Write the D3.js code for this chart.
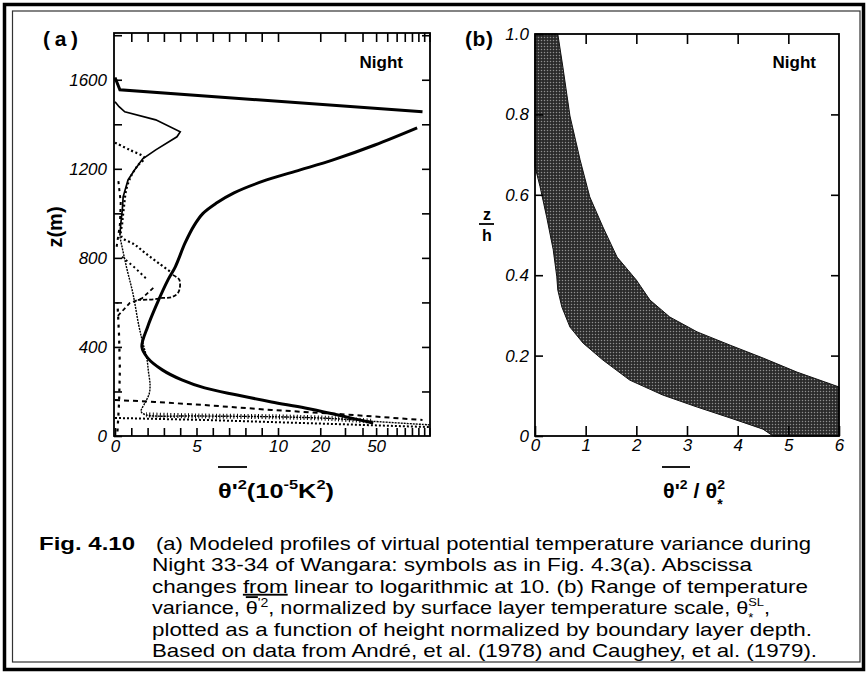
<!DOCTYPE html>
<html>
<head>
<meta charset="utf-8">
<script src="https://cdn.jsdelivr.net/npm/d3@7"></script>
<style>
  body { margin: 0; background: #fff; }
  svg { display: block; font-family: "Liberation Sans", Arial, sans-serif; }
</style>
</head>
<body>
<div id="chart"></div>
<script>
// ---- panel (a): profiles, [variance (1e-5 K^2), z (m)] ----
const thickProfile = [[47.7,58],[26.8,94],[15.6,126],[9.6,153],[7.5,184],[5.5,216],[4.1,252],[2.9,297],
  [2.0,351],[1.65,400],[2.0,490],[2.6,598],[3.25,701],[3.7,760],[4.3,867],[4.85,945],[5.4,1000],
  [6.2,1045],[7.3,1092],[9.3,1150],[14.4,1195],[24.7,1240],[49,1307],[98,1384]];
const inversionTop = [[0,1610],[0.3,1555],[107,1456]];
const thinPeak = [[0,1501],[0.25,1479],[0.6,1456],[2.5,1420],[4.0,1366],[3.8,1344],[2.5,1285],
  [1.7,1245],[1.2,1195],[0.8,1150],[0.5,1074],[0.45,1016],[0.35,950],[0.3,900]];
const coarseDots = [[0,1317],[0.9,1285],[1.8,1249],[1.4,1215],[1.0,1170],[0.7,1110],[0.55,1030],
  [0.45,960],[0.4,895],[1.2,860],[1.85,822],[2.7,775],[3.5,732]];
const dashLoop = [[3.55,723],[3.95,701],[3.9,647],[3.5,624],[2.9,620],[2.4,614],[1.4,611]];
const innerDots = [[0.43,805],[1.23,755],[2.0,701]];
const shortDash = [[2.35,665],[1.65,618],[0.9,597],[0.12,535]];
const thinLower = [[0.3,895],[0.7,760],[1.1,640],[1.45,500],[1.7,420],[1.95,350],[2.05,290],
  [2.15,230],[2.1,190],[1.85,150],[1.6,110],[1.9,95],[5,90],[10,86],[25,78],[47,66],[121,50]];
const hatchBottom = [[1.9,95],[5,90],[10,86],[25,78],[47,66]];
const dashedBottom = [[0,162],[2.45,153],[5.5,139],[9.6,117],[26.8,99],[107,72]];
const dottedBottom = [[0,81],[5.5,72],[15.6,58],[121,40]];
const leftHatch = [[0.15,20],[0.25,150],[0.3,300],[0.25,450],[0.15,600]];
const leftHatchUpper = [[0.1,850],[0.3,950],[0.35,1050],[0.2,1150]];

const xTicksLinA = [1,2,3,4,5,6,7,8,9,10];
const xTicksLogA = [20,30,40,50,60,70,80,90,100,110,120];
const xLabelsA = [0,5,10,20,50];
const yTicksA = [200,400,600,800,1000,1200,1400,1600,1800];
const yLabelsA = [0,400,800,1200,1600];

// ---- panel (b): band of normalized variance, [theta'^2/theta*^2, z/h] ----
const bandOuter = [[0.45,1.0],[0.55,0.918],[0.69,0.796],[0.89,0.687],[1.08,0.595],[1.34,0.52],
  [1.62,0.445],[2.0,0.388],[2.27,0.338],[2.66,0.296],[3.2,0.259],[3.85,0.226],[4.5,0.194],
  [5.17,0.159],[6,0.122],[6,0]];
const bandInner = [[0,1.0],[0,0.67],[0.1,0.62],[0.23,0.545],[0.36,0.463],[0.43,0.396],[0.45,0.363],
  [0.53,0.321],[0.69,0.271],[0.95,0.231],[1.34,0.189],[1.87,0.139],[2.52,0.102],[3.2,0.072],
  [3.85,0.045],[4.5,0.017],[4.7,0]];
const xTicksB = [0,1,2,3,4,5,6];
const yTicksB = [0,0.2,0.4,0.6,0.8,1.0];

const captionLines = [
  "(a) Modeled profiles of virtual potential temperature variance during",
  "Night 33-34 of Wangara:  symbols as in Fig. 4.3(a). Abscissa",
  "changes |from| linear to logarithmic at 10.  (b) Range of temperature",
  null,
  "plotted as a function of height normalized by boundary layer depth.",
  "Based on data from André, et al. (1978) and Caughey, et al. (1979)."
];
const captionEnds = [811, 752, 808, 770, 812, 817];

const W = 866, H = 676;
const svg = d3.select("#chart").append("svg").attr("width", W).attr("height", H);

// frame
svg.append("rect").attr("x", 4.5).attr("y", 4.5).attr("width", 859).attr("height", 665)
  .attr("fill", "none").attr("stroke", "#000").attr("stroke-width", 3.5);
svg.append("rect").attr("x", 12.5).attr("y", 11).attr("width", 847.5).attr("height", 651)
  .attr("fill", "none").attr("stroke", "#333").attr("stroke-width", 1.2);

// ---------- panel (a) ----------
const xLin = d3.scaleLinear().domain([0, 10]).range([115, 278]);
const xLog = d3.scaleLog().domain([10, 121]).range([278, 430]);
const xA = v => v <= 10 ? xLin(v) : xLog(v);
const yA = d3.scaleLinear().domain([0, 1810]).range([436, 33]);

function styleAxis(g) {
  g.select(".domain").remove();
  g.attr("font-family", null).attr("font-size", 17);
  g.selectAll("line").attr("stroke", "#000").attr("stroke-width", 1.6);
  g.selectAll("text").attr("font-style", "italic").attr("fill", "#000");
}

const pa = svg.append("g");
pa.append("g").attr("transform", "translate(0,436)")
  .call(d3.axisBottom(xLin).tickValues([0, ...xTicksLinA]).tickSize(-8).tickPadding(4)
    .tickFormat(d => xLabelsA.includes(d) ? d : ""))
  .call(styleAxis);
pa.append("g").attr("transform", "translate(0,436)")
  .call(d3.axisBottom(xLog).tickValues(xTicksLogA).tickSize(-8).tickPadding(4)
    .tickFormat(d => xLabelsA.includes(d) ? d : ""))
  .call(styleAxis);
pa.append("g").attr("transform", "translate(0,33)")
  .call(d3.axisTop(xLin).tickValues(xTicksLinA).tickSize(-9).tickFormat(""))
  .call(styleAxis);
pa.append("g").attr("transform", "translate(0,33)")
  .call(d3.axisTop(xLog).tickValues(xTicksLogA).tickSize(-9).tickFormat(""))
  .call(styleAxis);
pa.append("g").attr("transform", "translate(114,0)")
  .call(d3.axisLeft(yA).tickValues([0, ...yTicksA]).tickSize(-8).tickPadding(7)
    .tickFormat(d => yLabelsA.includes(d) ? d : ""))
  .call(styleAxis);
pa.append("g").attr("transform", "translate(430,0)")
  .call(d3.axisRight(yA).tickValues(yTicksA).tickSize(-8).tickFormat(""))
  .call(styleAxis);
pa.append("rect").attr("x", 114).attr("y", 33).attr("width", 316).attr("height", 403)
  .attr("fill", "none").attr("stroke", "#000").attr("stroke-width", 1.8);

const lineA = d3.line().x(d => xA(d[0])).y(d => yA(d[1]));
const smoothA = d3.line().x(d => xA(d[0])).y(d => yA(d[1])).curve(d3.curveCatmullRom.alpha(0.5));

const series = [
  { data: leftHatch, gen: lineA, w: 2.2, dash: "3,5" },
  { data: leftHatchUpper, gen: lineA, w: 2, dash: "3,4" },
  { data: dottedBottom, gen: lineA, w: 2, dash: "2,2" },
  { data: dashedBottom, gen: lineA, w: 2, dash: "5,4" },
  { data: hatchBottom, gen: smoothA, w: 5, dash: "1,2.5" },
  { data: thinLower, gen: smoothA, w: 1.4, dash: "2,1" },
  { data: shortDash, gen: lineA, w: 1.8, dash: "4,3" },
  { data: innerDots, gen: lineA, w: 2, dash: "2,3" },
  { data: dashLoop, gen: smoothA, w: 1.8, dash: "4,2" },
  { data: coarseDots, gen: smoothA, w: 2.2, dash: "2,2.5" },
  { data: thinPeak, gen: lineA, w: 1.7, dash: null },
  { data: inversionTop, gen: lineA, w: 3, dash: null },
  { data: thickProfile, gen: smoothA, w: 3, dash: null }
];
pa.selectAll("path.series").data(series).join("path")
  .attr("class", "series")
  .attr("d", d => d.gen(d.data))
  .attr("fill", "none").attr("stroke", "#000")
  .attr("stroke-width", d => d.w)
  .attr("stroke-dasharray", d => d.dash);

pa.append("text").attr("x", 43).attr("y", 46).attr("font-size", 21).attr("font-weight", "bold")
  .attr("textLength", 35).attr("lengthAdjust", "spacing").text("(a)");
pa.append("text").attr("x", 403).attr("y", 68).attr("font-size", 17).attr("font-weight", "bold")
  .attr("text-anchor", "end").text("Night");
pa.append("text").attr("transform", "translate(62,227) rotate(-90)").attr("text-anchor", "middle")
  .attr("font-size", 20).attr("font-weight", "bold").text("z(m)");

const tA = pa.append("text").attr("x", 218).attr("y", 498).attr("font-size", 20).attr("font-weight", "bold")
  .attr("textLength", 116).attr("lengthAdjust", "spacingAndGlyphs");
tA.append("tspan").text("θ'");
tA.append("tspan").attr("dy", -9).attr("font-size", 13).text("2");
tA.append("tspan").attr("dy", 9).text("(10");
tA.append("tspan").attr("dy", -9).attr("font-size", 13).text("-5");
tA.append("tspan").attr("dy", 9).text("K");
tA.append("tspan").attr("dy", -9).attr("font-size", 13).text("2");
tA.append("tspan").attr("dy", 9).text(")");
pa.append("line").attr("x1", 218).attr("x2", 247).attr("y1", 467).attr("y2", 467)
  .attr("stroke", "#000").attr("stroke-width", 1.8);

// ---------- panel (b) ----------
const xB = d3.scaleLinear().domain([0, 6]).range([535, 839]);
const yB = d3.scaleLinear().domain([0, 1]).range([436, 34]);

const defs = svg.append("defs");
const pat = defs.append("pattern").attr("id", "stipple").attr("patternUnits", "userSpaceOnUse")
  .attr("width", 3).attr("height", 3);
pat.append("rect").attr("width", 3).attr("height", 3).attr("fill", "#2a2a2a");
pat.append("circle").attr("cx", 1.5).attr("cy", 1.5).attr("r", 0.75).attr("fill", "#8f8f8f");

const pb = svg.append("g");
const bandLine = d3.line().x(d => xB(d[0])).y(d => yB(d[1]));
pb.append("path").attr("d", bandLine(bandOuter.concat(bandInner.slice().reverse())) + "Z")
  .attr("fill", "url(#stipple)").attr("stroke", "#111").attr("stroke-width", 1);

pb.append("g").attr("transform", "translate(0,436)")
  .call(d3.axisBottom(xB).tickValues(xTicksB).tickSize(-10).tickPadding(3).tickFormat(d3.format("d")))
  .call(styleAxis);
pb.append("g").attr("transform", "translate(0,34)")
  .call(d3.axisTop(xB).tickValues(xTicksB.slice(1, -1)).tickSize(-10).tickFormat(""))
  .call(styleAxis);
pb.append("g").attr("transform", "translate(535,0)")
  .call(d3.axisLeft(yB).tickValues(yTicksB).tickSize(-8).tickPadding(6)
    .tickFormat(d => d === 0 ? "0" : d.toFixed(1)))
  .call(styleAxis);
pb.append("g").attr("transform", "translate(839,0)")
  .call(d3.axisRight(yB).tickValues(yTicksB.slice(1, -1)).tickSize(-8).tickFormat(""))
  .call(styleAxis);
pb.append("rect").attr("x", 535).attr("y", 34).attr("width", 304).attr("height", 402)
  .attr("fill", "none").attr("stroke", "#000").attr("stroke-width", 1.8);

pb.append("text").attr("x", 465).attr("y", 46).attr("font-size", 21).attr("font-weight", "bold")
  .attr("textLength", 28).attr("lengthAdjust", "spacing").text("(b)");
pb.append("text").attr("x", 816).attr("y", 68).attr("font-size", 17).attr("font-weight", "bold")
  .attr("text-anchor", "end").text("Night");
pb.append("text").attr("x", 487).attr("y", 220).attr("font-size", 16).attr("font-weight", "bold")
  .attr("text-anchor", "middle").text("z");
pb.append("line").attr("x1", 479).attr("x2", 494).attr("y1", 224).attr("y2", 224)
  .attr("stroke", "#000").attr("stroke-width", 1.8);
pb.append("text").attr("x", 487).attr("y", 241).attr("font-size", 16).attr("font-weight", "bold")
  .attr("text-anchor", "middle").text("h");

const tB = pb.append("text").attr("x", 663).attr("y", 498).attr("font-size", 20).attr("font-weight", "bold")
  .attr("textLength", 62).attr("lengthAdjust", "spacingAndGlyphs");
tB.append("tspan").text("θ'");
tB.append("tspan").attr("dy", -9).attr("font-size", 13).text("2");
tB.append("tspan").attr("dy", 9).text(" / θ");
const tB2 = tB.append("tspan").attr("dy", -9).attr("font-size", 13).text("2");
pb.append("line").attr("x1", 662).attr("x2", 690).attr("y1", 467).attr("y2", 467)
  .attr("stroke", "#000").attr("stroke-width", 1.8);
const starX = tB2.node().getStartPositionOfChar(0).x;
pb.append("text").attr("x", starX).attr("y", 509).attr("font-size", 14).attr("font-weight", "bold").text("*");

// ---------- caption ----------
const cap = svg.append("g").attr("font-size", 18.5).attr("fill", "#000");
cap.append("text").attr("x", 39).attr("y", 550).attr("font-weight", "bold")
  .attr("textLength", 96).attr("lengthAdjust", "spacingAndGlyphs").text("Fig.  4.10");
const lineY = i => 550 + i * 21.4;
captionLines.forEach((s, i) => {
  const x0 = i === 0 ? 156 : 152;
  const t = cap.append("text").attr("x", x0).attr("y", lineY(i))
    .attr("textLength", captionEnds[i] - x0).attr("lengthAdjust", "spacingAndGlyphs");
  if (s === null) {
    t.append("tspan").text("variance, ");
    t.append("tspan").attr("text-decoration", "overline").text("θ");
    t.append("tspan").attr("dy", -7).attr("font-size", 12).text("'2");
    t.append("tspan").attr("dy", 7).text(", normalized by surface layer temperature scale, θ");
    const sl = t.append("tspan").attr("dy", -8).attr("font-size", 11).text("SL");
    t.append("tspan").attr("dy", 8).text(",");
    const p = sl.node().getStartPositionOfChar(0).x;
    cap.append("text").attr("x", p).attr("y", lineY(i) + 8).attr("font-size", 13).text("*");
    return;
  }
  s.split("|").forEach((part, k) => {
    const ts = t.append("tspan").text(part);
    if (k === 1) ts.attr("text-decoration", "underline");
  });
});
</script>
</body>
</html>
